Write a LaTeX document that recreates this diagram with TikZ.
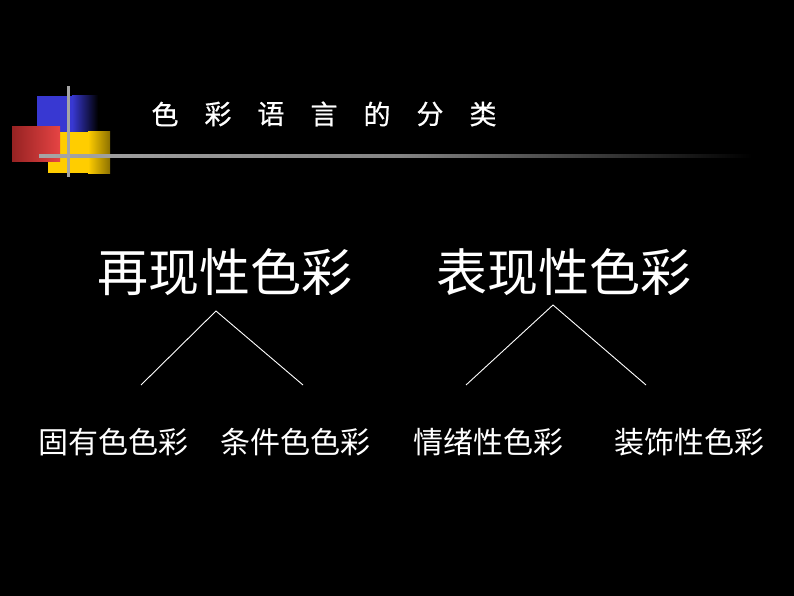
\documentclass[tikz,border=0pt]{standalone}
\usepackage{fontspec}
\newfontfamily\cjk{Noto Sans CJK SC}
\newfontfamily\cjkmed[FakeBold=0.6]{Noto Sans CJK SC}
\definecolor{decoblue}{RGB}{56,56,210}
\definecolor{decoyellow}{RGB}{255,205,0}
\definecolor{decored}{RGB}{230,68,68}
\definecolor{decoredd}{RGB}{150,34,34}
\definecolor{rulegray}{RGB}{165,165,165}
\begin{document}
\begin{tikzpicture}[x=1pt,y=-1pt,
  txt/.style={text=white,inner sep=0pt,font=\cjk},
  title/.style={txt,font=\cjkmed\fontsize{27}{27}\selectfont},
  head/.style={txt,font=\cjk\fontsize{51}{51}\selectfont},
  sub/.style={txt,font=\cjk\fontsize{30}{30}\selectfont},
  branch/.style={draw=white,line width=0.9pt}]
\fill[black] (0,0) rectangle (794,596);
\useasboundingbox (0,0) rectangle (794,596);
% decoration
\fill[decoblue] (37,96) rectangle (72.5,133);
\shade[left color=decoblue,right color=black] (72,96) rectangle (98,133);
\fill[decoyellow] (48,132) rectangle (88.5,173);
\shade[left color=decoyellow,right color=decoyellow!55!black] (88,132) rectangle (110,173);
\shade[left color=decoredd,right color=decored] (12,127) rectangle (60,162);
\shade[left color=rulegray,right color=rulegray!80!black] (39,155) rectangle (400,157.5);
\shade[left color=rulegray!80!black,right color=black] (400,155) rectangle (752,157.5);
\fill[rulegray] (67,86) rectangle (69.5,177);
% title
\foreach \c [count=\i from 0] in {色,彩,语,言,的,分,类}
  \node[title] (t\i) at (165+53*\i,114) {\c};
% headings
\node[head] (h1) at (224.5,272) {再现性色彩};
\node[head] (h2) at (563.5,272) {表现性色彩};
% subs
\node[sub] (s1) at (113,442) {固有色色彩};
\node[sub] (s2) at (295,442) {条件色色彩};
\node[sub] (s3) at (488,442) {情绪性色彩};
\node[sub] (s4) at (689,442) {装饰性色彩};
% branch points
\coordinate (a1) at (216,311);
\coordinate (l1) at (141,385);
\coordinate (r1) at (303,385);
\coordinate (a2) at (553,305);
\coordinate (l2) at (466,385);
\coordinate (r2) at (646,385);
\draw[branch] (l1) -- (a1) -- (r1);
\draw[branch] (l2) -- (a2) -- (r2);
\end{tikzpicture}
\end{document}
